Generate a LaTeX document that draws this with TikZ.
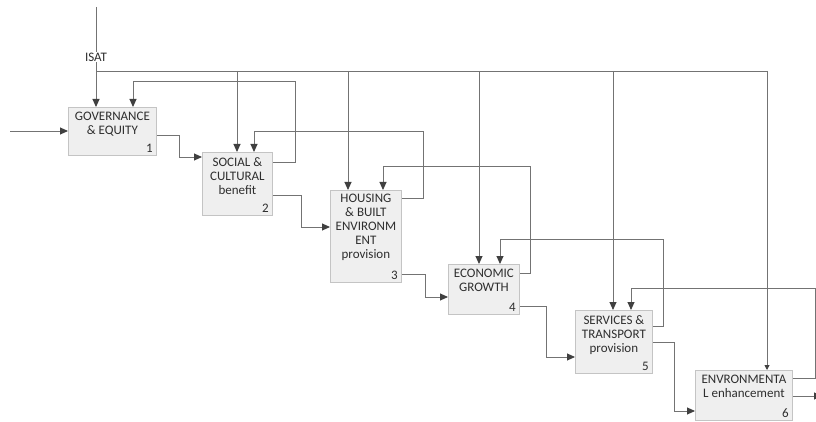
\documentclass[tikz,border=0pt]{standalone}
\usepackage{fontspec}
\setmainfont{Carlito}
\usetikzlibrary{arrows.meta}
\pgfdeclarelayer{bg}
\pgfsetlayers{bg,main}
\definecolor{linegray}{HTML}{737373}
\definecolor{headgray}{HTML}{404040}
\definecolor{boxfill}{HTML}{EFEFEF}
\definecolor{boxline}{HTML}{C4C4C4}
\definecolor{txt}{HTML}{2E2E2E}
\tikzset{
  box/.style={draw=boxline, fill=boxfill, line width=0.8pt, anchor=north west, inner sep=0pt},
  boxtext/.style={anchor=north, align=center, text=txt, font=\fontsize{13}{14}\selectfont, inner sep=0pt},
  num/.style={anchor=south east, text=txt, font=\fontsize{13}{14}\selectfont, inner sep=0pt, xshift=-4pt, yshift=3pt},
  flow/.style={draw=linegray, line width=0.9pt, -{Triangle[length=8pt,width=7pt,fill=headgray,color=headgray]}},
  plain/.style={draw=linegray, line width=0.9pt},
}
\begin{document}
\begin{tikzpicture}[x=1pt,y=-1pt]
\useasboundingbox (0,0) rectangle (816,422);
% boxes
\node[box, minimum width=88pt, minimum height=48pt] (b1) at (68,107) {};
\node[box, minimum width=70pt, minimum height=63pt] (b2) at (202,152) {};
\node[box, minimum width=71pt, minimum height=92pt] (b3) at (330,190) {};
\node[box, minimum width=71pt, minimum height=50pt] (b4) at (448,264) {};
\node[box, minimum width=77pt, minimum height=63pt] (b5) at (575,310) {};
\node[box, minimum width=97pt, minimum height=50pt] (b6) at (695,370) {};
% texts
\node[boxtext] (t1) at ([yshift=-5pt]b1.north) {GOVERNANCE\\\& EQUITY};
\node[boxtext] (t2) at ([yshift=-5pt]b2.north) {SOCIAL \&\\CULTURAL\\benefit};
\node[boxtext] (t3) at ([yshift=-4pt]b3.north) {HOUSING\\\& BUILT\\ENVIRONM\\ENT\\provision};
\node[boxtext] (t4) at ([yshift=-5pt]b4.north) {ECONOMIC\\GROWTH};
\node[boxtext] (t5) at ([yshift=-5pt]b5.north) {SERVICES \&\\TRANSPORT\\provision};
\node[boxtext] (t6) at ([yshift=-5pt]b6.north) {ENVRONMENTA\\L enhancement};
\node[num] (n1) at (b1.south east) {1};
\node[num] (n2) at (b2.south east) {2};
\node[num] (n3) at (b3.south east) {3};
\node[num] (n4) at (b4.south east) {4};
\node[num] (n5) at (b5.south east) {5};
\node[num] (n6) at (b6.south east) {6};
% free ends
\coordinate (isattop) at (96,7);
\coordinate (isatcorner) at (96,71);
\coordinate (isatend) at (767,71);
\coordinate (inp) at (10,131);
\coordinate (outp) at (822,396);
\node[fill=white, text=txt, font=\fontsize{13}{14}\selectfont, inner sep=1pt] (isat) at (96,57) {ISAT};
\begin{pgfonlayer}{bg}
% ISAT control
\draw[flow] (isattop) -- (b1.north -| isattop);
\draw[plain] (isatcorner) -- (isatend);
\draw[flow] (237,71) -- (b2.north -| 237,0);
\draw[flow] (348,71) -- (b3.north -| 348,0);
\draw[flow] (479,71) -- (b4.north -| 479,0);
\draw[flow] (613,71) -- (b5.north -| 613,0);
\draw[draw=linegray, line width=0.9pt, -{Triangle[length=5pt,width=5pt,fill=headgray,color=headgray]}] (isatend) -- (b6.north -| isatend);
% input / output
\draw[flow] (inp) -- (b1.west |- inp);
\draw[flow] (b6.east |- outp) -- (outp);
% forward flows
\draw[flow] (b1.east |- 0,135) -- (179,135) |- (b2.west |- 0,157);
\draw[flow] (b2.east |- 0,195) -- (301,195) |- (b3.west |- 0,227);
\draw[flow] (b3.east |- 0,274) -- (425,274) |- (b4.west |- 0,297);
\draw[flow] (b4.east |- 0,306) -- (546,306) |- (b5.west |- 0,357);
\draw[flow] (b5.east |- 0,342) -- (674,342) |- (b6.west |- 0,411);
% feedback flows
\draw[flow] (b2.east |- 0,162) -- (295,162) -- (295,81) -| (b1.north -| 133,0);
\draw[flow] (b3.east |- 0,198) -- (423,198) -- (423,131) -| (b2.north -| 254,0);
\draw[flow] (b4.east |- 0,273) -- (530,273) -- (530,166) -| (b3.north -| 383,0);
\draw[flow] (b5.east |- 0,326) -- (663,326) -- (663,239) -| (b4.north -| 500,0);
\draw[flow] (b6.east |- 0,378) -- (815,378) -- (815,288) -| (b5.north -| 631,0);
\end{pgfonlayer}
\end{tikzpicture}
\end{document}
